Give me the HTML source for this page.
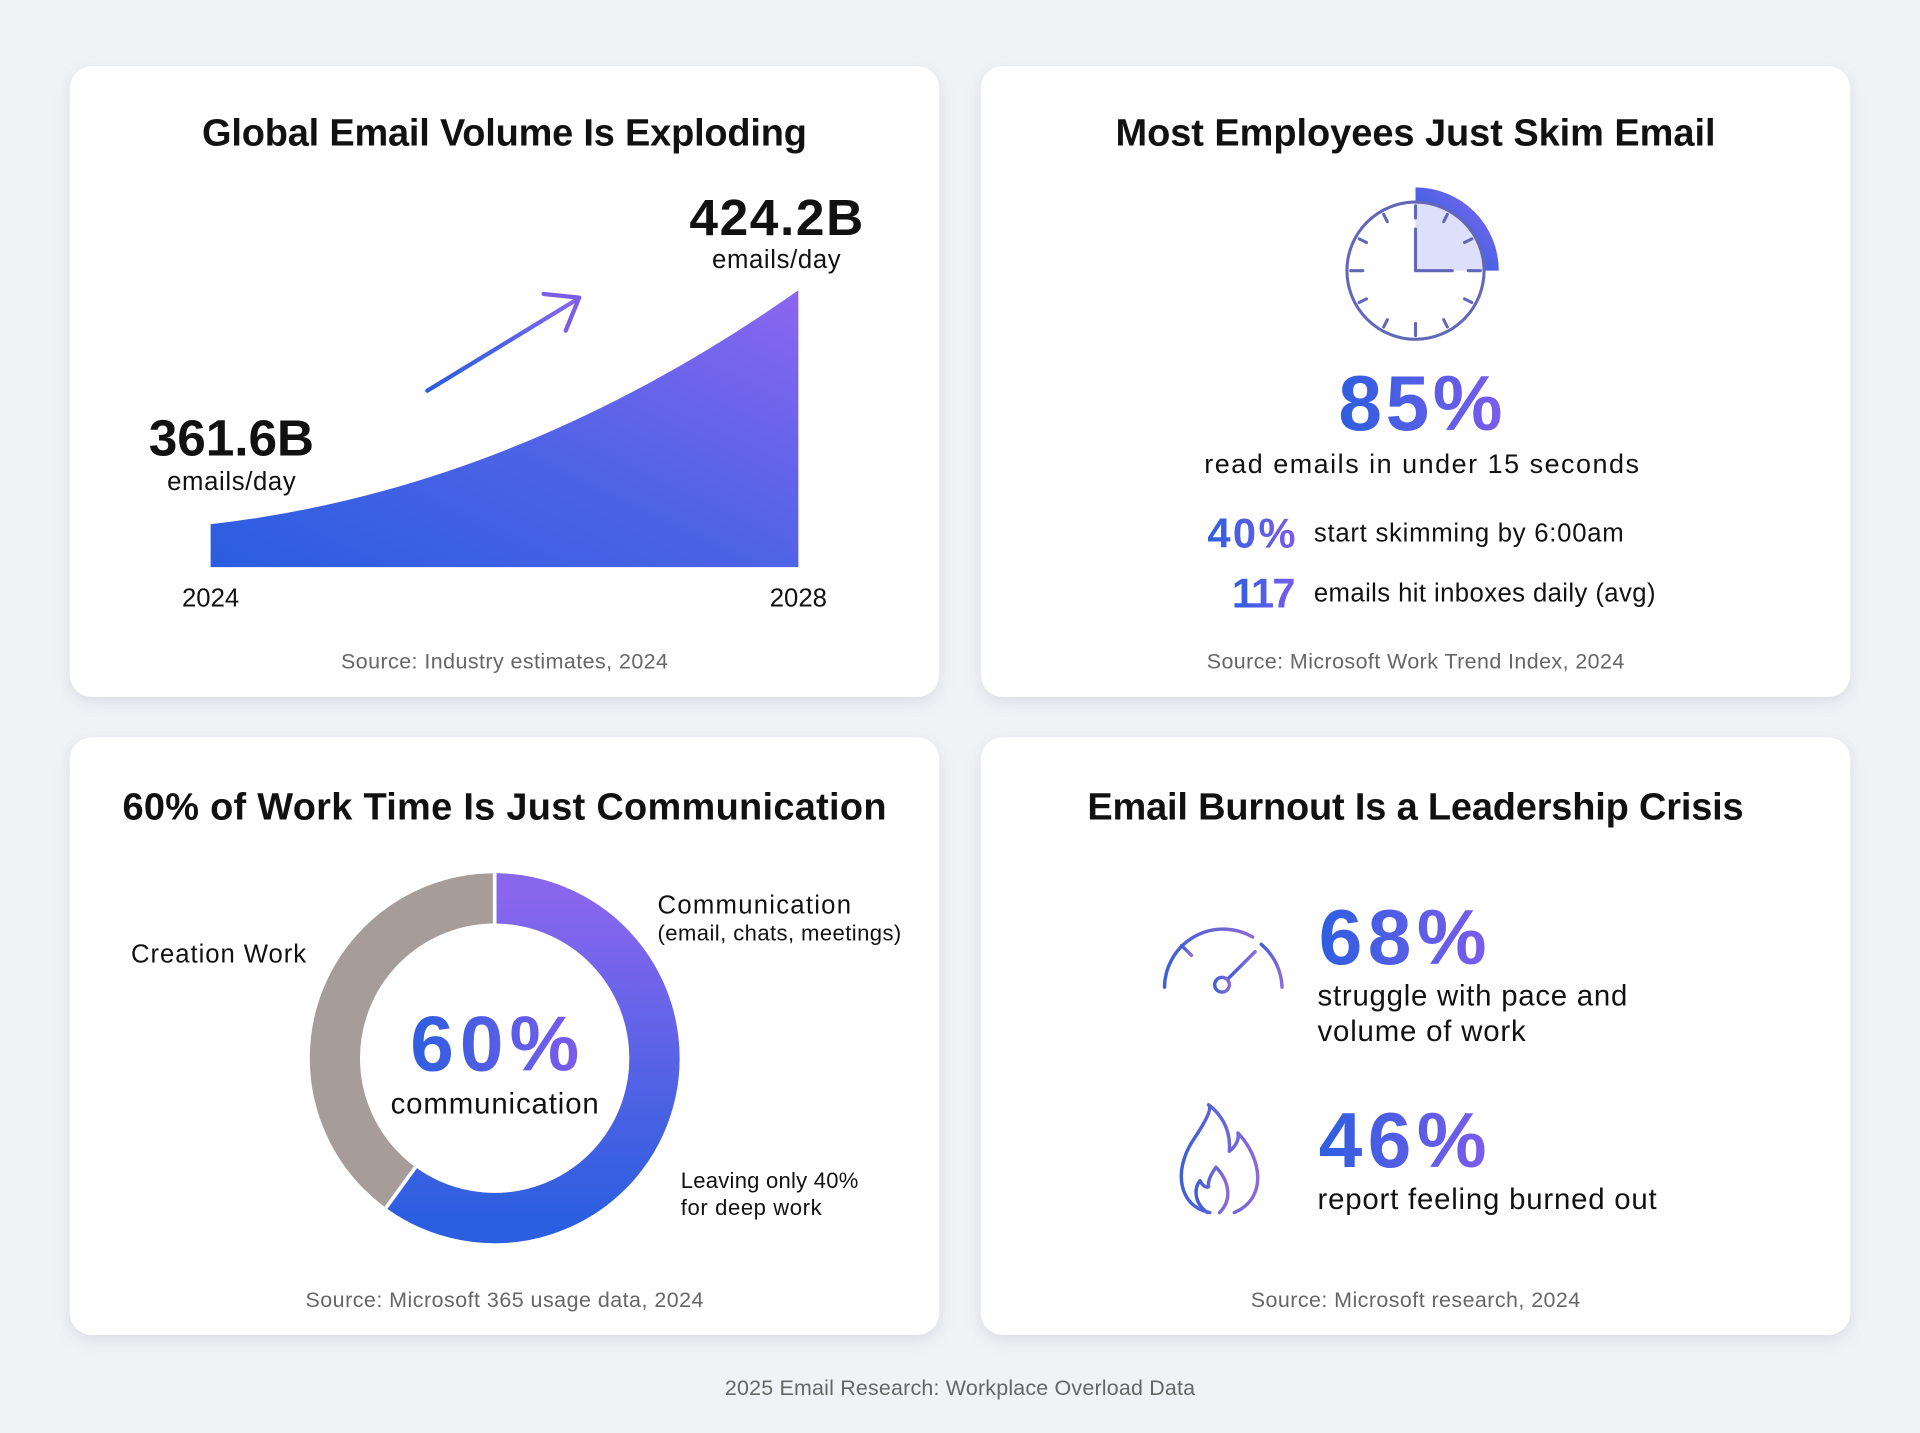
<!DOCTYPE html>
<html><head><meta charset="utf-8"><style>
html,body{margin:0;padding:0;background:#f1f2f6;}
svg{display:block;}
text{font-family:"Liberation Sans",Arial,sans-serif;}
</style></head><body>
<svg width="1920" height="1433" viewBox="0 0 1568 1170" preserveAspectRatio="none" xmlns="http://www.w3.org/2000/svg">
<defs>
<linearGradient id="tg" x1="0" y1="0" x2="1" y2="0"><stop offset="0" stop-color="#2d5fdf"/><stop offset="1" stop-color="#7b5cec"/></linearGradient>
<linearGradient id="ag" x1="0" y1="1" x2="1" y2="0"><stop offset="0" stop-color="#2a5de0"/><stop offset="0.5" stop-color="#4f63e6"/><stop offset="1" stop-color="#8c66f0"/></linearGradient>
<linearGradient id="dg" x1="0" y1="0" x2="0" y2="1"><stop offset="0" stop-color="#8866ee"/><stop offset="1" stop-color="#2b5fdf"/></linearGradient>
<linearGradient id="ig" x1="0" y1="0" x2="1" y2="0"><stop offset="0" stop-color="#3d5fd6"/><stop offset="1" stop-color="#8a6ad8"/></linearGradient>
<filter id="sh" x="-10%" y="-10%" width="120%" height="125%"><feDropShadow dx="0" dy="4" stdDeviation="6" flood-color="#8890a8" flood-opacity="0.22"/></filter>
</defs>
<rect width="1568" height="1170" fill="#f1f2f6"/>
<g filter="url(#sh)" fill="#fff">
<rect x="57" y="54" width="710" height="515" rx="18"/>
<rect x="801" y="54" width="710" height="515" rx="18"/>
<rect x="57" y="602" width="710" height="488" rx="18"/>
<rect x="801" y="602" width="710" height="488" rx="18"/>
</g>
<g font-weight="bold" font-size="31" fill="#111" text-anchor="middle">
<text x="412" y="119" textLength="494">Global Email Volume Is Exploding</text>
<text x="1156" y="119" textLength="490">Most Employees Just Skim Email</text>
<text x="412" y="669" textLength="624">60% of Work Time Is Just Communication</text>
<text x="1156" y="669" textLength="536">Email Burnout Is a Leadership Crisis</text>
</g>
<g font-size="17.5" fill="#666" text-anchor="middle">
<text x="412" y="546" textLength="267">Source: Industry estimates, 2024</text>
<text x="1156" y="546" textLength="341">Source: Microsoft Work Trend Index, 2024</text>
<text x="412" y="1067" textLength="325">Source: Microsoft 365 usage data, 2024</text>
<text x="1156" y="1067" textLength="269">Source: Microsoft research, 2024</text>
<text x="784" y="1139" textLength="384">2025 Email Research: Workplace Overload Data</text>
</g>
<!-- Card 1 -->
<path d="M172 428 Q 420 400 652 237 L652 463 L172 463 Z" fill="url(#ag)"/>
<line x1="349" y1="319" x2="472" y2="244" stroke="url(#ag)" stroke-width="3.5" stroke-linecap="round"/>
<path d="M444 240 L473 243 L462 270" fill="none" stroke="#7b5ee8" stroke-width="3.5" stroke-linecap="round" stroke-linejoin="round"/>
<text x="634" y="192" font-size="42" font-weight="bold" fill="#111" text-anchor="middle" textLength="142">424.2B</text>
<text x="634" y="219" font-size="21" fill="#111" text-anchor="middle" textLength="105">emails/day</text>
<text x="189" y="372" font-size="42" font-weight="bold" fill="#111" text-anchor="middle" textLength="135">361.6B</text>
<text x="189" y="400" font-size="21" fill="#111" text-anchor="middle" textLength="105">emails/day</text>
<text x="172" y="495" font-size="21" fill="#111" text-anchor="middle">2024</text>
<text x="652" y="495" font-size="21" fill="#111" text-anchor="middle">2028</text>
<!-- Card 2 clock -->
<path d="M1156 221 L1156 165 A56 56 0 0 1 1212 221 Z" fill="#dde0fa"/>
<path d="M1156 153 A68 68 0 0 1 1224 221 L1212 221 A56 56 0 0 0 1156 165 Z" fill="url(#ag)"/>
<circle cx="1156" cy="221" r="56" fill="none" stroke="#6367b8" stroke-width="2.5"/>
<g stroke="#6367b8" stroke-width="2.5" stroke-linecap="round">
<line x1="1156" y1="221" x2="1156" y2="187"/><line x1="1156" y1="221" x2="1186" y2="221"/>
<line x1="1156" y1="168" x2="1156" y2="178"/><line x1="1156" y1="264" x2="1156" y2="274"/>
<line x1="1103" y1="221" x2="1113" y2="221"/><line x1="1199" y1="221" x2="1209" y2="221"/>
<line x1="1182" y1="175" x2="1179" y2="181"/><line x1="1202" y1="195" x2="1196" y2="198"/>
<line x1="1202" y1="247" x2="1196" y2="244"/><line x1="1182" y1="267" x2="1179" y2="261"/>
<line x1="1130" y1="267" x2="1133" y2="261"/><line x1="1110" y1="247" x2="1116" y2="244"/>
<line x1="1110" y1="195" x2="1116" y2="198"/><line x1="1130" y1="175" x2="1133" y2="181"/>
</g>
<text x="1160" y="351" font-size="64" font-weight="bold" fill="url(#tg)" text-anchor="middle" textLength="134">85%</text>
<text x="1161" y="386" font-size="22" fill="#111" text-anchor="middle" textLength="355">read emails in under 15 seconds</text>
<text x="1058" y="447" font-size="34" font-weight="bold" fill="url(#tg)" text-anchor="end" textLength="72">40%</text>
<text x="1073" y="442" font-size="21" fill="#111" textLength="253">start skimming by 6:00am</text>
<text x="1058" y="496" font-size="34" font-weight="bold" fill="url(#tg)" text-anchor="end" textLength="52">117</text>
<text x="1073" y="491" font-size="21" fill="#111" textLength="279">emails hit inboxes daily (avg)</text>
<!-- Card 3 donut -->
<circle cx="404" cy="864" r="130.5" fill="none" stroke="#a69d9a" stroke-width="41"/>
<path d="M404 733.5 A130.5 130.5 0 1 1 327.3 969.6" fill="none" stroke="url(#dg)" stroke-width="41"/>
<line x1="404" y1="713" x2="404" y2="754" stroke="#fff" stroke-width="3"/>
<line x1="315.2" y1="986.2" x2="339.3" y2="953" stroke="#fff" stroke-width="3"/>
<text x="404" y="874" font-size="64" font-weight="bold" fill="url(#tg)" text-anchor="middle" textLength="138">60%</text>
<text x="404" y="909" font-size="24" fill="#111" text-anchor="middle" textLength="170">communication</text>
<text x="537" y="746" font-size="21" fill="#111" textLength="158">Communication</text>
<text x="537" y="768" font-size="18" fill="#111" textLength="199">(email, chats, meetings)</text>
<text x="107" y="786" font-size="21" fill="#111" textLength="143">Creation Work</text>
<text x="556" y="970" font-size="18" fill="#111" textLength="145">Leaving only 40%</text>
<text x="556" y="992" font-size="18" fill="#111" textLength="115">for deep work</text>
<!-- Card 4 -->
<g fill="none" stroke="url(#ig)" stroke-width="2.8" stroke-linecap="round" stroke-linejoin="round">
<path d="M951 806 A48 48 0 0 1 1023 765"/>
<path d="M1030 771 A48 48 0 0 1 1047 806"/>
<line x1="951" y1="806" x2="963" y2="806"/><line x1="1035" y1="806" x2="1047" y2="806"/>
<line x1="998" y1="758" x2="998" y2="770"/><line x1="965" y1="772" x2="973" y2="780"/>
<line x1="1003" y1="799" x2="1025" y2="777"/>
<circle cx="998" cy="804" r="6"/>
<path d="M988 990 C962 985 958 955 975 930 C985 915 990 905 987 902 C1000 912 1005 925 1004 940 C1010 935 1012 930 1011 925 C1030 945 1036 978 1008 990"/>
<path d="M986 990 C975 982 975 970 980 964 C982 968 985 970 987 969 C986 962 992 955 993 953 C1002 962 1008 978 996 990"/>
</g>
<text x="1077" y="787" font-size="64" font-weight="bold" fill="url(#tg)" textLength="137">68%</text>
<text x="1076" y="821" font-size="24" fill="#111" textLength="253">struggle with pace and</text>
<text x="1076" y="850" font-size="24" fill="#111" textLength="170">volume of work</text>
<text x="1077" y="953" font-size="64" font-weight="bold" fill="url(#tg)" textLength="137">46%</text>
<text x="1076" y="987" font-size="24" fill="#111" textLength="277">report feeling burned out</text>
</svg>
</body></html>
